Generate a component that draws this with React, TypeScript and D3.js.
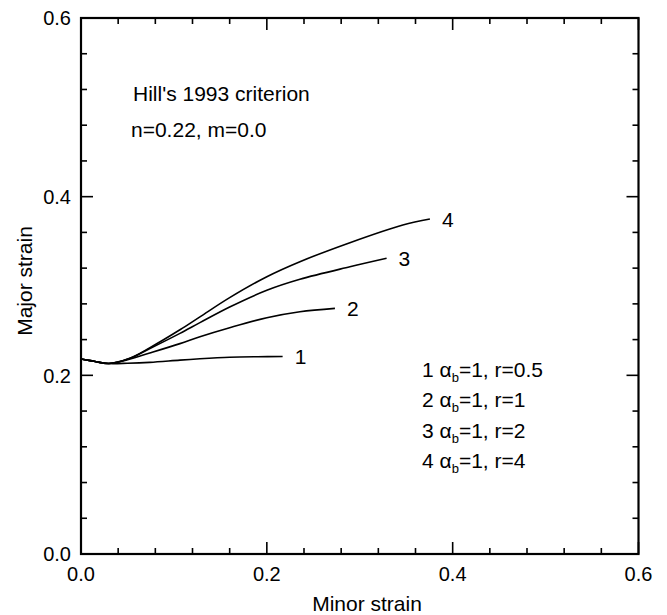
import React from "react";
import * as d3 from "d3";

// ---- data ----
const curve1X = [0, 0.01, 0.02, 0.03, 0.05, 0.074, 0.1065, 0.128, 0.16, 0.19, 0.217];
const curve1Y = [0.2183, 0.2165, 0.2145, 0.2132, 0.2135, 0.2145, 0.217, 0.2185, 0.2202, 0.2208, 0.221];

const curve2X = [0, 0.01, 0.02, 0.03, 0.045, 0.074, 0.1065, 0.128, 0.16, 0.2, 0.2356, 0.2733];
const curve2Y = [0.2183, 0.2165, 0.2145, 0.2132, 0.216, 0.225, 0.2355, 0.2432, 0.2533, 0.2645, 0.2712, 0.275];

const curve3X = [0, 0.01, 0.02, 0.03, 0.0527, 0.0742, 0.1065, 0.128, 0.16, 0.2, 0.2356, 0.2894, 0.3289];
const curve3Y = [0.2183, 0.2165, 0.2145, 0.2132, 0.219, 0.23, 0.247, 0.259, 0.2765, 0.2952, 0.3075, 0.3215, 0.331];

const curve4X = [0, 0.01, 0.02, 0.03, 0.0527, 0.0742, 0.1065, 0.128, 0.16, 0.2, 0.2356, 0.2894, 0.3464, 0.3755];
const curve4Y = [0.2183, 0.2165, 0.2145, 0.2132, 0.2192, 0.231, 0.251, 0.2655, 0.287, 0.3104, 0.3272, 0.3485, 0.3683, 0.375];

const curveLabels = ["1", "2", "3", "4"];
const legendNumbers = ["1", "2", "3", "4"];
const legendR = ["0.5", "1", "2", "4"];

const xTickValues = [0, 0.2, 0.4, 0.6];
const yTickValues = [0, 0.2, 0.4, 0.6];
const tickLabels = ["0.0", "0.2", "0.4", "0.6"];

const annotationLines = ["Hill's 1993 criterion", "n=0.22, m=0.0"];
const xTitle = "Minor strain";
const yTitle = "Major strain";

// ---- layout ----
const W = 667;
const H = 615;
const left = 81;
const right = 638.5;
const top = 18;
const bottom = 554;
const FONT = "'Liberation Sans', Arial, Helvetica, sans-serif";

export default function App() {
  const x = d3.scaleLinear().domain([0, 0.6]).range([left, right]);
  const y = d3.scaleLinear().domain([0, 0.6]).range([bottom, top]);

  const series = [
    { xs: curve1X, ys: curve1Y },
    { xs: curve2X, ys: curve2Y },
    { xs: curve3X, ys: curve3Y },
    { xs: curve4X, ys: curve4Y },
  ];

  const line = d3
    .line<[number, number]>()
    .x((d) => x(d[0]))
    .y((d) => y(d[1]))
    .curve(d3.curveCatmullRom.alpha(0.5));

  const minorTicks = d3.range(0, 16).map((i) => +(i * 0.04).toFixed(3));
  const isMajor = (v: number) => xTickValues.some((m) => Math.abs(m - v) < 1e-6);

  const majorLen = 12;
  const minorLen = 6;

  return (
    <div style={{ position: "absolute", left: 0, top: 0 }}>
      <svg width={W} height={H} style={{ display: "block", background: "#fff" }}>
        <rect x={0} y={0} width={W} height={H} fill="#fff" />
        {/* ticks on all four sides (inward) */}
        <g stroke="#000" strokeWidth={1.6}>
          {minorTicks.map((v, i) => {
            const len = isMajor(v) ? majorLen : minorLen;
            return (
              <g key={i}>
                <line x1={x(v)} x2={x(v)} y1={bottom} y2={bottom - len} />
                <line x1={x(v)} x2={x(v)} y1={top} y2={top + len} />
                <line x1={left} x2={left + len} y1={y(v)} y2={y(v)} />
                <line x1={right} x2={right - len} y1={y(v)} y2={y(v)} />
              </g>
            );
          })}
        </g>
        {/* frame */}
        <rect
          x={left}
          y={top}
          width={right - left}
          height={bottom - top}
          fill="none"
          stroke="#000"
          strokeWidth={2.2}
        />
        {/* tick labels */}
        <g fontFamily={FONT} fontSize={20} fill="#000">
          {xTickValues.map((v, i) => (
            <text key={"x" + i} x={x(v)} y={bottom + 27} textAnchor="middle">
              {tickLabels[i]}
            </text>
          ))}
          {yTickValues.map((v, i) => (
            <text key={"y" + i} x={left - 10} y={y(v)} dy="0.36em" textAnchor="end">
              {tickLabels[i]}
            </text>
          ))}
        </g>
        {/* axis titles */}
        <text
          x={367}
          y={611}
          textAnchor="middle"
          fontFamily={FONT}
          fontSize={21}
          fill="#000"
        >
          {xTitle}
        </text>
        <text
          transform={`translate(31.5, 281) rotate(-90)`}
          textAnchor="middle"
          fontFamily={FONT}
          fontSize={21}
          fill="#000"
        >
          {yTitle}
        </text>
        {/* curves */}
        <g fill="none" stroke="#000" strokeWidth={1.6}>
          {series.map((s, i) => (
            <path key={i} d={line(s.xs.map((v, j) => [v, s.ys[j]] as [number, number])) || ""} />
          ))}
        </g>
        {/* curve labels */}
        <g fontFamily={FONT} fontSize={21} fill="#000">
          {series.map((s, i) => {
            const n = s.xs.length - 1;
            return (
              <text key={i} x={x(s.xs[n]) + 12} y={y(s.ys[n])} dy="0.36em">
                {curveLabels[i]}
              </text>
            );
          })}
        </g>
        {/* annotation */}
        <g fontFamily={FONT} fontSize={21} fill="#000">
          <text x={133} y={101}>{annotationLines[0]}</text>
          <text x={131} y={136.5}>{annotationLines[1]}</text>
        </g>
        {/* legend */}
        <g fontFamily={FONT} fontSize={21} fill="#000">
          {legendNumbers.map((n, i) => (
            <text key={i} x={422} y={376.5 + i * 30.5}>
              {n + " \u03b1"}
              <tspan fontSize={13} dy={5}>b</tspan>
              <tspan dy={-5}>{"=1, r=" + legendR[i]}</tspan>
            </text>
          ))}
        </g>
      </svg>
    </div>
  );
}
